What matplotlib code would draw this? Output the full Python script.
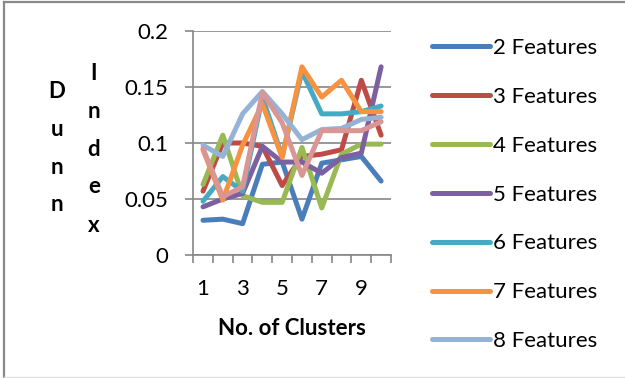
import matplotlib.pyplot as plt
import numpy as np
from matplotlib.lines import Line2D

plt.rcParams["font.family"] = ["Lato", "DejaVu Sans"]

clusters = [1, 2, 3, 4, 5, 6, 7, 8, 9, 10]
series_names = ["2 Features", "3 Features", "4 Features", "5 Features",
                "6 Features", "7 Features", "8 Features", "9 Features"]

f2 = [0.031, 0.032, 0.028, 0.081, 0.083, 0.032, 0.082, 0.085, 0.088, 0.066]
f3 = [0.057, 0.100, 0.100, 0.097, 0.062, 0.088, 0.090, 0.094, 0.156, 0.107]
f4 = [0.063, 0.107, 0.053, 0.047, 0.047, 0.096, 0.042, 0.090, 0.099, 0.099]
f5 = [0.043, 0.050, 0.055, 0.097, 0.083, 0.083, 0.073, 0.087, 0.091, 0.168]
f6 = [0.048, 0.070, 0.057, 0.141, 0.088, 0.164, 0.126, 0.126, 0.128, 0.133]
f7 = [0.094, 0.049, 0.098, 0.135, 0.087, 0.168, 0.141, 0.156, 0.128, 0.128]
f8 = [0.098, 0.088, 0.126, 0.146, 0.126, 0.103, 0.112, 0.113, 0.121, 0.123]
f9 = [0.095, 0.052, 0.061, 0.145, 0.118, 0.071, 0.111, 0.111, 0.111, 0.119]

values = [f2, f3, f4, f5, f6, f7, f8, f9]
colors = ["#4A7EBB", "#BE4B48", "#98B954", "#7D60A0",
          "#46AAC5", "#F69240", "#95B3D7", "#D99694"]

y_ticks = [0, 0.05, 0.1, 0.15, 0.2]
y_labels = ["0", "0.05", "0.1", "0.15", "0.2"]
x_labels = [1, 3, 5, 7, 9]

FS = 16

fig = plt.figure(figsize=(6.25, 3.78), dpi=100)
ax = fig.add_axes([0.309, 0.3254, 0.3166, 0.5926])

lines = []
for name, vals, color in zip(series_names, values, colors):
    (ln,) = ax.plot(clusters, vals, color=color, lw=3.6, label=name,
                    solid_capstyle="round", solid_joinstyle="round")
    lines.append(ln)

ax.set_xlim(0.5, 10.5)
ax.set_ylim(0, 0.2)
ax.set_yticks(y_ticks)
ax.set_yticklabels(y_labels)
ax.set_xticks(x_labels)
ax.set_xticklabels([str(v) for v in x_labels])
ax.set_xticks(np.arange(0.5, 11, 1), minor=True)
ax.tick_params(axis="x", which="major", length=0, labelsize=FS, pad=17)
ax.tick_params(axis="x", which="minor", length=6, width=1.2, color="#868686")
ax.tick_params(axis="y", length=6, width=1.2, color="#868686", labelsize=FS, pad=12)

ax.grid(axis="y", color="#868686", lw=1.2)
ax.set_axisbelow(True)
for side in ["top", "right"]:
    ax.spines[side].set_visible(False)
for side in ["left", "bottom"]:
    ax.spines[side].set_color("#868686")
    ax.spines[side].set_linewidth(1.2)

ax.set_xlabel("No. of Clusters", fontsize=FS, fontweight="bold", labelpad=14)

# stacked letters of the y-axis title
for i, ch in enumerate("Dunn"):
    fig.text(57 / 625, 1 - (92 + 37.5 * i) / 378, ch, ha="center", va="center",
             fontsize=FS, fontweight="bold")
for i, ch in enumerate("Index"):
    fig.text(94 / 625, 1 - (73 + 38 * i) / 378, ch, ha="center", va="center",
             fontsize=FS, fontweight="bold")

fig.legend(lines[:7], series_names[:7], loc="upper left",
           bbox_to_anchor=(423 / 625, 1 - 29 / 378), frameon=False,
           fontsize=FS, handlelength=2.6, handletextpad=0.15,
           labelspacing=1.3, borderaxespad=0)

# chart-area border (right edge falls outside the image)
x0, y_top, y_bot = 3.5 / 625, 1 - 2 / 378, 1.5 / 378
fig.add_artist(Line2D([x0, x0], [y_bot, y_top], transform=fig.transFigure,
                      color="#8a8a8a", lw=1.6))
fig.add_artist(Line2D([x0, 1], [y_top, y_top], transform=fig.transFigure,
                      color="#8a8a8a", lw=1.6))
fig.add_artist(Line2D([x0, 1], [y_bot, y_bot], transform=fig.transFigure,
                      color="#e0e0e0", lw=1))

fig.savefig("out.png", dpi=100)
